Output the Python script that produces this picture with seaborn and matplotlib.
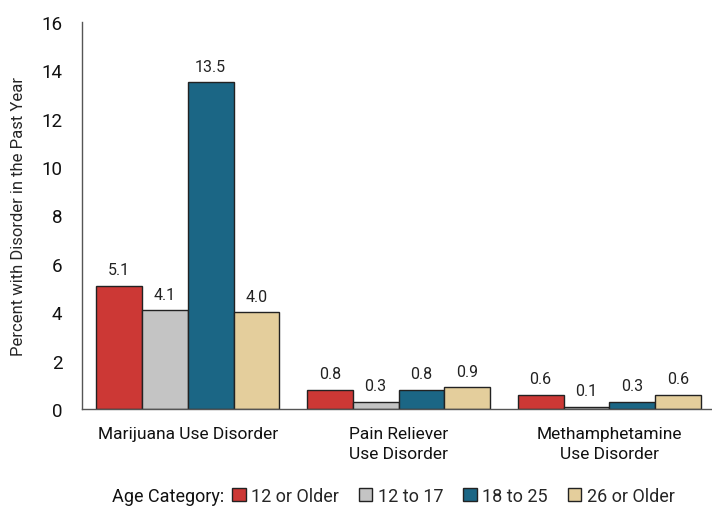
import numpy as np
import pandas as pd
import matplotlib
matplotlib.use("Agg")
import matplotlib.pyplot as plt
import seaborn as sns
from matplotlib.patches import Patch

# ─── DATA ───────────────────────────────────────────────────────────────────
disorders = ["Marijuana Use Disorder", "Pain Reliever\nUse Disorder",
             "Methamphetamine\nUse Disorder"]
age_groups = ["12 or Older", "12 to 17", "18 to 25", "26 or Older"]
older_12 = [5.1, 0.8, 0.6]
age_12_17 = [4.1, 0.3, 0.1]
age_18_25 = [13.5, 0.8, 0.3]
older_26 = [4.0, 0.9, 0.6]
colors = ["#CC3835", "#C4C4C4", "#1B6685", "#E4CE9C"]

rows = []
for grp, vals in zip(age_groups, [older_12, age_12_17, age_18_25, older_26]):
    for d, v in zip(disorders, vals):
        rows.append({"Disorder": d, "Age": grp, "Percent": v})
df = pd.DataFrame(rows)

# ─── PLOT ───────────────────────────────────────────────────────────────────
sns.set_style("white")
plt.rcParams['font.family'] = ['Roboto', 'DejaVu Sans']

fig = plt.figure(figsize=(7.12, 5.10), dpi=100)
ax = fig.add_axes([0.115, 0.196, 0.884, 0.759])

sns.barplot(data=df, x="Disorder", y="Percent", hue="Age",
            order=disorders, hue_order=age_groups, palette=colors,
            width=0.87, edgecolor="#222222", linewidth=1.0,
            saturation=1, errorbar=None, legend=False, ax=ax)

for cont in ax.containers:
    ax.bar_label(cont, fmt="%.1f", padding=6, fontsize=11.5, color="#222222")

ax.set_ylim(0, 16)
ax.set_yticks(range(0, 17, 2))
ax.set_xlim(-0.502, 2.483)
ax.set_xlabel("")
ax.set_ylabel("Percent with Disorder in the Past Year", fontsize=12, labelpad=11)
ax.tick_params(axis="both", length=0, colors="#111111")
ax.tick_params(axis="x", pad=12, labelsize=12.5)
ax.tick_params(axis="y", pad=14, labelsize=13.5)
for lbl in ax.get_xticklabels():
    lbl.set_linespacing(1.45)

for side in ["top", "right"]:
    ax.spines[side].set_visible(False)
for side in ["left", "bottom"]:
    ax.spines[side].set_color("#555555")
    ax.spines[side].set_linewidth(1.0)

fig.text(0.157, 0.026, "Age Category:", ha="left", va="center",
         fontsize=13, color="#111111")
handles = [Patch(facecolor=c, edgecolor="#222222", linewidth=1.0) for c in colors]
fig.legend(handles, age_groups, loc="center left", bbox_to_anchor=(0.326, 0.026),
           ncol=4, frameon=False, fontsize=13, handlelength=0.75,
           handleheight=0.75, handletextpad=0.3, columnspacing=1.1,
           borderpad=0, borderaxespad=0)

fig.savefig("out.png", dpi=100)
